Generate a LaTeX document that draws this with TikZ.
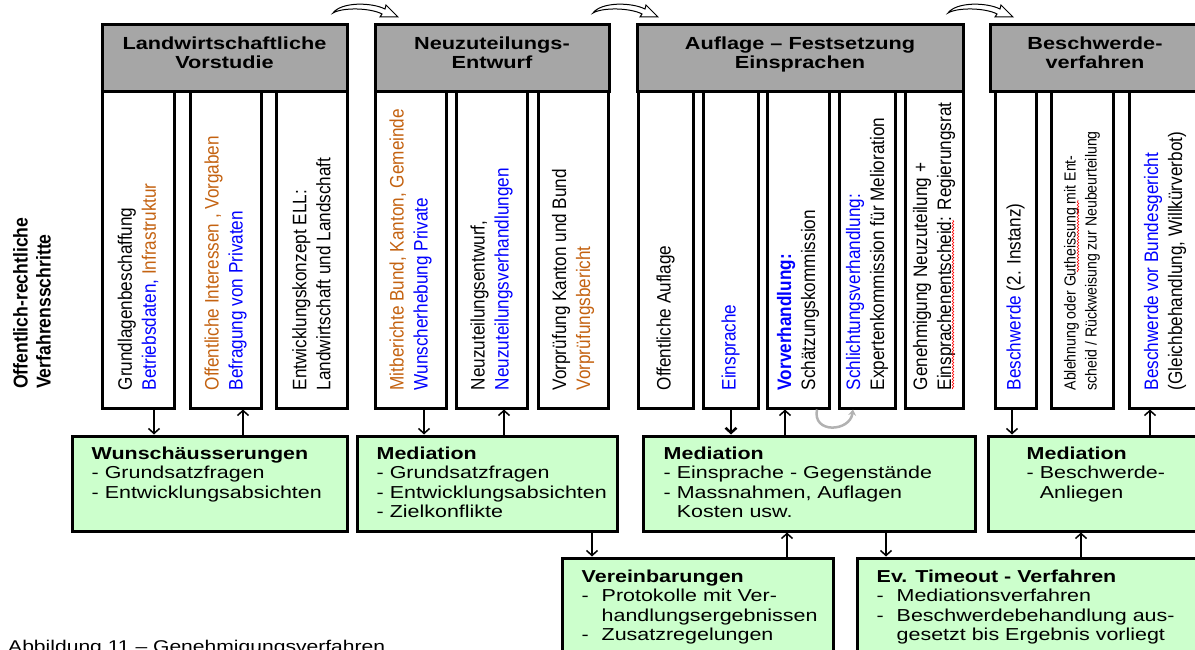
\documentclass[tikz,border=0pt]{standalone}
\usepackage{fontspec}
\setmainfont{Liberation Sans}
\newfontfamily\widefont[FakeStretch=1.24]{Liberation Sans}
\newfontfamily\narrowfont[FakeStretch=0.88]{Liberation Sans}
\usetikzlibrary{arrows.meta,decorations.pathmorphing}

\definecolor{hdrgray}{RGB}{166,166,166}
\definecolor{mediagreen}{RGB}{204,255,204}
\definecolor{txtblue}{RGB}{0,0,255}
\definecolor{txtorange}{RGB}{196,98,16}

\newcommand{\txtb}[1]{\textcolor{txtblue}{#1}}
\newcommand{\txto}[1]{\textcolor{txtorange}{#1}}
\newcommand{\gdash}{\makebox[20pt][l]{-}}
\newcommand{\gind}{\hspace*{20pt}}

\tikzset{
  hdr/.style={draw, line width=3pt, fill=hdrgray, minimum height=67pt, align=center, text depth=11pt, font=\widefont\bfseries\fontsize{17.5}{19}\selectfont},
  col/.style={draw, line width=3pt, fill=white, minimum height=316pt},
  coltxt/.style={rotate=90, anchor=west, align=left, inner sep=0pt, font=\narrowfont\fontsize{19.5}{24}\selectfont},
  gbox/.style={draw, line width=3pt, fill=mediagreen},
  gtxt/.style={anchor=north west, align=left, inner sep=0pt, font=\widefont\fontsize{17.3}{19.5}\selectfont},
  arr/.style={line width=1.5pt, -{Straight Barb[length=5pt,width=11pt]}},
  curvarr/.style={draw, line width=1pt, fill=white},
  squiggle/.style={red, line width=0.6pt, decorate, decoration={snake, amplitude=0.8pt, segment length=3pt}}
}

\begin{document}
\begin{tikzpicture}[x=1pt, y=-1pt]
\useasboundingbox (0,0) rectangle (1195,650);
\clip (0,0) rectangle (1195,650);

% side label
\node[rotate=90, anchor=west, align=left, inner sep=0pt, font=\narrowfont\bfseries\fontsize{20}{23}\selectfont] (side) at (32,389) {Offentlich-rechtliche\\Verfahrensschritte};

% phase headers
\node[hdr, minimum width=245pt] (h1) at (224.5,58.5) {Landwirtschaftliche\\Vorstudie};
\node[hdr, minimum width=234pt] (h2) at (492,58.5) {Neuzuteilungs-\\Entwurf};
\node[hdr, minimum width=326pt] (h3) at (800,58.5) {Auflage – Festsetzung\\Einsprachen};
\node[hdr, minimum width=210pt] (h4) at (1095,58.5) {Beschwerde-\\verfahren};

% curved arrows between the phases
\foreach \x in {333,593,948}
  \draw[curvarr, shift={(\x,0)}] (0,13) .. controls (8,2) and (38,2) .. (52,9) -- (53,5) -- (65,17) -- (47,17) -- (49,14) .. controls (38,8) and (10,7) .. (0,13) -- cycle;

% columns
\node[col, minimum width=72pt] (v11) at (138,250) {};
\node[col, minimum width=71pt] (v12) at (225.5,250) {};
\node[col, minimum width=71pt] (v13) at (311.5,250) {};
\node[col, minimum width=71pt] (v21) at (410.5,250) {};
\node[col, minimum width=71pt] (v22) at (491.5,250) {};
\node[col, minimum width=70pt] (v23) at (573,250) {};
\node[col, minimum width=55pt] (v31) at (665.5,250) {};
\node[col, minimum width=55pt] (v32) at (730.5,250) {};
\node[col, minimum width=62pt] (v33) at (798,250) {};
\node[col, minimum width=56pt] (v34) at (867,250) {};
\node[col, minimum width=58pt] (v35) at (934,250) {};
\node[col, minimum width=41pt] (v41) at (1015.5,250) {};
\node[col, minimum width=62pt] (v42) at (1082,250) {};
\node[col, minimum width=72pt] (v43) at (1165,250) {};

% column texts
\node[coltxt] (t11) at ([yshift=19pt]v11.south) {Grundlagenbeschaffung\\\txtb{Betriebsdaten,} \txto{Infrastruktur}};
\node[coltxt] (t12) at ([yshift=19pt]v12.south) {\txto{Offentliche Interessen , Vorgaben}\\\txtb{Befragung von Privaten}};
\node[coltxt] (t13) at ([yshift=19pt]v13.south) {Entwicklungskonzept ELL:\\Landwirtschaft und Landschaft};
\node[coltxt] (t21) at ([yshift=19pt]v21.south) {\txto{Mitberichte Bund, Kanton, Gemeinde}\\\txtb{Wunscherhebung Private}};
\node[coltxt] (t22) at ([yshift=19pt]v22.south) {Neuzuteilungsentwurf,\\\txtb{Neuzuteilungsverhandlungen}};
\node[coltxt] (t23) at ([yshift=19pt]v23.south) {Vorprüfung Kanton und Bund\\\txto{Vorprüfungsbericht}};
\node[coltxt] (t31) at ([yshift=19pt]v31.south) {Offentliche Auflage};
\node[coltxt] (t32) at ([yshift=19pt]v32.south) {\txtb{Einsprache}};
\node[coltxt] (t33) at ([yshift=19pt]v33.south) {\txtb{\bfseries Vorverhandlung:}\\Schätzungskommission};
\node[coltxt] (t34) at ([yshift=19pt]v34.south) {\txtb{Schlichtungsverhandlung:}\\Expertenkommission für Melioration};
\node[coltxt] (t35) at ([yshift=19pt]v35.south) {Genehmigung Neuzuteilung +\\Einsprachenentscheid: Regierungsrat};
\node[coltxt] (t41) at ([yshift=19pt]v41.south) {\txtb{Beschwerde} (2. Instanz)};
\node[coltxt, font=\narrowfont\fontsize{16}{21}\selectfont] (t42) at ([yshift=19pt]v42.south) {Ablehnung oder Gutheissung mit Ent-\\scheid / Rückweisung zur Neubeurteilung};
\node[coltxt] (t43) at ([yshift=19pt]v43.south) {\txtb{Beschwerde vor Bundesgericht}\\(Gleichbehandlung, Willkürverbot)};

% spell check marks
\draw[squiggle] (953,389) -- (953,220);
\draw[squiggle] (1078,272) -- (1078,200);

% mediation boxes
\node[gbox, minimum width=275pt, minimum height=95pt] (wA) at (209.5,483.5) {};
\node[gbox, minimum width=260pt, minimum height=95pt] (wB) at (487,483.5) {};
\node[gbox, minimum width=332pt, minimum height=95pt] (wC) at (809,483.5) {};
\node[gbox, minimum width=222pt, minimum height=95pt] (wD) at (1099,483.5) {};
\node[gbox, minimum width=271pt, minimum height=107pt] (wE) at (697.5,611.5) {};
\node[gbox, minimum width=353pt, minimum height=107pt] (wF) at (1033.5,611.5) {};

\node[gtxt] (wAt) at ([xshift=21pt,yshift=-12pt]wA.north west) {\textbf{Wunschäusserungen}\\- Grundsatzfragen\\- Entwicklungsabsichten};
\node[gtxt] (wBt) at ([xshift=21pt,yshift=-12pt]wB.north west) {\textbf{Mediation}\\- Grundsatzfragen\\- Entwicklungsabsichten\\- Zielkonflikte};
\node[gtxt] (wCt) at ([xshift=22pt,yshift=-12pt]wC.north west) {\textbf{Mediation}\\- Einsprache - Gegenstände\\- Massnahmen, Auflagen\\\phantom{- }Kosten usw.};
\node[gtxt] (wDt) at ([xshift=40pt,yshift=-12pt]wD.north west) {\textbf{Mediation}\\- Beschwerde-\\\phantom{- }Anliegen};
\node[gtxt] (wEt) at ([xshift=21pt,yshift=-13pt]wE.north west) {\textbf{Vereinbarungen}\\\gdash Protokolle mit Ver-\\\gind handlungsergebnissen\\\gdash Zusatzregelungen};
\node[gtxt] (wFt) at ([xshift=21pt,yshift=-13pt]wF.north west) {\textbf{Ev. Timeout - Verfahren}\\\gdash Mediationsverfahren\\\gdash Beschwerdebehandlung aus-\\\gind gesetzt bis Ergebnis vorliegt};

% connectors
\foreach \x/\a/\b in {154/v11/wA, 424/v21/wB, 1012/v41/wD}
  \draw[arr] (\x,0 |- \a.south) -- (\x,0 |- \b.north);
\draw[arr, line width=2.5pt] (731,0 |- v32.south) -- (731,0 |- wC.north);
\foreach \x/\a/\b in {243/wA/v12, 504/wB/v22, 785/wC/v33, 1150/wD/v43}
  \draw[arr] (\x,0 |- \a.north) -- (\x,0 |- \b.south);
\draw[arr] (592,0 |- wB.south) -- (592,0 |- wE.north);
\draw[arr] (787,0 |- wE.north) -- (787,0 |- wC.south);
\draw[arr] (886,0 |- wC.south) -- (886,0 |- wF.north);
\draw[arr] (1081,0 |- wF.north) -- (1081,0 |- wD.south);

% loop between the hearings
\draw[line width=2.5pt, gray!60, -{Stealth[length=6pt,width=8pt]}] (817,0 |- v33.south) .. controls (812,434) and (850,432) .. (853,0 |- v34.south);

% caption
\node[anchor=north west, inner sep=0pt, font=\widefont\fontsize{17}{20}\selectfont] (cap) at (8,640) {Abbildung 11 – Genehmigungsverfahren};
\end{tikzpicture}
\end{document}
